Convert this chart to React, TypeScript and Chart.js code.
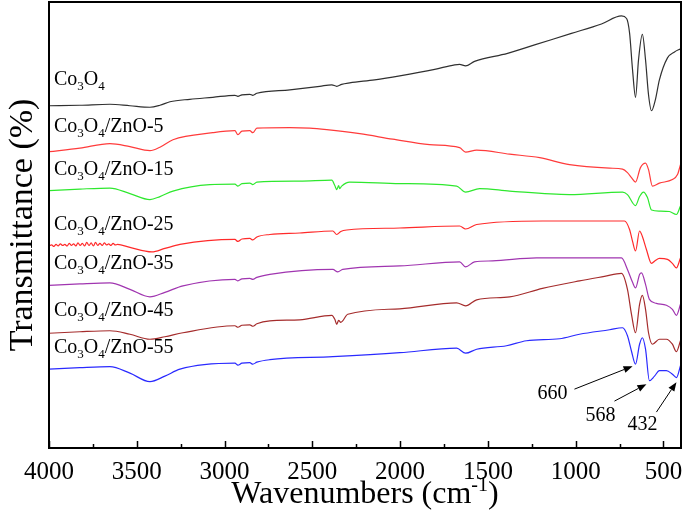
import React, { useEffect, useRef } from "react";
import { Chart, registerables } from "chart.js";

Chart.register(...registerables);

const FONT = '"Liberation Serif", "Times New Roman", Times, serif';

// X axis (wavenumber, cm^-1)
const xTicks = [4000, 3500, 3000, 2500, 2000, 1500, 1000, 500];
const xMin = 400;
const xMax = 4000;
const yMin = 0;
const yMax = 89.4;

// Co3O4
const co3o4Wn = [4000, 3824, 3653, 3539, 3425, 3368, 3311, 3198, 3067, 2941, 2924, 2901, 2856, 2839, 2816, 2628, 2458, 2389, 2361, 2333, 2287, 2145, 2002, 1803, 1689, 1661, 1627, 1576, 1388, 1234, 1024, 853, 739, 710, 693, 676, 659, 642, 620, 602, 585, 568, 546, 523, 477, 437, 403];
const co3o4T = [68.6, 68.7, 68.9, 68.6, 68.3, 68.7, 69.4, 69.9, 70.3, 70.7, 70.5, 70.8, 70.9, 70.7, 71.1, 71.8, 72.5, 72.8, 72.5, 72.9, 73.2, 73.8, 74.6, 75.9, 76.8, 76.9, 76.6, 77.5, 79.1, 80.8, 83.1, 85.0, 86.6, 86.1, 83.2, 75.8, 70.3, 77.8, 82.9, 77.8, 70.8, 67.6, 69.8, 73.8, 78.2, 79.4, 80.0];

// Co3O4/ZnO-5
const zno5Wn = [4000, 3824, 3653, 3539, 3425, 3368, 3294, 3067, 2941, 2924, 2901, 2856, 2839, 2816, 2628, 2515, 2418, 2230, 2042, 1832, 1661, 1627, 1564, 1376, 1205, 1035, 807, 733, 705, 682, 659, 631, 602, 585, 563, 523, 449, 420, 403];
const zno5T = [59.4, 60.1, 61.0, 60.4, 59.6, 60.3, 61.8, 63.2, 63.6, 62.8, 63.5, 63.6, 63.2, 64.1, 64.2, 64.1, 63.8, 63.0, 61.9, 60.8, 60.2, 59.3, 59.7, 58.9, 58.2, 56.8, 56.1, 55.9, 55.2, 54.2, 53.3, 56.2, 57.1, 55.8, 52.5, 53.1, 53.8, 54.8, 56.8];

// Co3O4/ZnO-15
const zno15Wn = [4000, 3824, 3653, 3539, 3425, 3368, 3294, 3084, 2941, 2924, 2901, 2856, 2839, 2816, 2572, 2389, 2372, 2361, 2350, 2344, 2333, 2287, 2002, 1678, 1627, 1547, 1376, 1035, 733, 705, 659, 636, 614, 591, 568, 523, 466, 426, 403];
const zno15T = [51.6, 51.9, 52.1, 51.0, 49.8, 50.4, 51.5, 52.8, 52.9, 52.5, 53.0, 53.1, 52.8, 53.3, 53.5, 53.7, 52.6, 51.8, 52.6, 52.0, 52.5, 53.3, 53.0, 52.5, 51.3, 52.0, 51.5, 50.8, 51.3, 50.8, 48.6, 50.4, 51.3, 50.2, 47.7, 47.5, 47.4, 46.8, 48.5];

// Co3O4/ZnO-25
const zno25Wn = [4000, 3985, 3972, 3960, 3948, 3935, 3922, 3910, 3897, 3885, 3872, 3860, 3847, 3835, 3822, 3810, 3797, 3785, 3772, 3760, 3747, 3735, 3722, 3710, 3697, 3685, 3672, 3660, 3647, 3635, 3622, 3610, 3539, 3414, 3340, 3254, 2941, 2924, 2901, 2856, 2839, 2816, 2742, 2572, 2383, 2361, 2338, 2304, 2002, 1661, 1627, 1564, 1189, 978, 750, 722, 693, 676, 659, 636, 620, 597, 568, 546, 523, 477, 449, 426, 403];
const zno25T = [40.5, 40.7, 40.4, 40.8, 40.5, 40.9, 40.6, 40.8, 40.5, 41.0, 40.6, 40.9, 40.5, 41.1, 40.6, 41.0, 40.5, 41.2, 40.6, 41.1, 40.5, 41.2, 40.6, 41.0, 40.6, 41.1, 40.7, 40.9, 40.6, 41.0, 40.7, 40.8, 40.2, 39.3, 40.0, 40.8, 41.8, 41.4, 41.9, 42.0, 41.7, 42.3, 42.8, 43.1, 43.5, 42.8, 43.4, 43.7, 44.1, 44.5, 43.9, 44.8, 45.5, 45.5, 45.5, 45.5, 43.8, 41.4, 39.5, 43.5, 42.4, 39.8, 37.0, 37.6, 38.0, 37.8, 37.0, 36.1, 38.1];

// Co3O4/ZnO-35
const zno35Wn = [4000, 3824, 3653, 3539, 3425, 3340, 3237, 2941, 2924, 2901, 2856, 2839, 2816, 2742, 2383, 2355, 2327, 2002, 1661, 1627, 1576, 1473, 1223, 978, 739, 705, 676, 659, 636, 625, 602, 580, 540, 483, 449, 426, 403];
const zno35T = [32.6, 32.9, 33.1, 31.8, 30.3, 31.2, 32.5, 33.8, 33.5, 33.9, 34.0, 33.8, 34.2, 34.8, 35.8, 35.3, 35.8, 36.5, 37.3, 36.3, 37.3, 37.5, 38.1, 38.1, 38.1, 35.8, 33.2, 32.1, 34.8, 35.1, 32.8, 29.8, 29.0, 28.6, 27.8, 26.6, 28.8];

// Co3O4/ZnO-45
const zno45Wn = [4000, 3824, 3653, 3539, 3425, 3340, 3237, 2941, 2924, 2901, 2856, 2839, 2816, 2742, 2572, 2389, 2372, 2361, 2350, 2338, 2298, 2002, 1678, 1627, 1564, 1376, 1189, 978, 836, 739, 705, 682, 659, 636, 620, 602, 585, 563, 523, 483, 449, 426, 403];
const zno45T = [23.0, 23.3, 23.5, 22.8, 21.8, 22.3, 23.1, 24.5, 24.2, 24.6, 24.7, 24.4, 24.9, 25.5, 25.7, 26.6, 25.8, 24.8, 25.6, 25.2, 26.8, 27.9, 29.1, 28.5, 29.7, 30.3, 32.0, 33.5, 34.4, 35.0, 31.8, 26.8, 23.1, 28.8, 30.6, 27.8, 23.1, 20.8, 21.8, 21.8, 20.8, 19.3, 21.5];

// Co3O4/ZnO-55
const zno55Wn = [4000, 3824, 3653, 3539, 3425, 3340, 3254, 2941, 2924, 2901, 2856, 2839, 2816, 2742, 2383, 2002, 1678, 1627, 1564, 1394, 1280, 1092, 978, 807, 733, 705, 682, 659, 636, 620, 602, 580, 551, 523, 483, 449, 426, 403];
const zno55T = [15.8, 16.1, 16.3, 15.0, 13.3, 14.4, 15.8, 17.0, 16.6, 17.0, 17.1, 16.8, 17.2, 17.7, 18.3, 19.1, 20.0, 19.0, 19.8, 20.5, 21.5, 21.9, 22.8, 23.7, 24.1, 22.5, 19.4, 16.8, 20.8, 22.1, 19.8, 13.5, 14.4, 15.5, 15.5, 14.8, 14.1, 16.5];

const seriesNames = ["Co3O4", "Co3O4/ZnO-5", "Co3O4/ZnO-15", "Co3O4/ZnO-25", "Co3O4/ZnO-35", "Co3O4/ZnO-45", "Co3O4/ZnO-55"];
const seriesWn = [co3o4Wn, zno5Wn, zno15Wn, zno25Wn, zno35Wn, zno45Wn, zno55Wn];
const seriesT = [co3o4T, zno5T, zno15T, zno25T, zno35T, zno45T, zno55T];
const seriesColors = ["#303030", "#ff3b3b", "#2ee82e", "#ff2a2a", "#a035b0", "#a52c2c", "#2a2aff"];

// Curve labels (left side), anchored at wavenumber / transmittance of their baselines
const labelWn = 3972;
const labelT = [72.8, 63.3, 54.8, 43.7, 35.8, 26.5, 19.0];

// Peak annotations
const peakLabels = ["660", "568", "432"];
const peakTextWn = [1132, 859, 620];
const peakTextT = [9.8, 5.4, 3.6];
const arrowFromWn = [1007, 779, 540];
const arrowFromT = [11.8, 9.4, 7.2];
const arrowToWn = [676, 597, 426];
const arrowToT = [16.4, 12.8, 13.2];

function drawFormula(ctx: CanvasRenderingContext2D, name: string, x: number, y: number) {
  const big = `20px ${FONT}`;
  const small = `13px ${FONT}`;
  ctx.textAlign = "left";
  ctx.textBaseline = "alphabetic";
  ctx.fillStyle = "#000";
  let cx = x;
  const parts: [string, boolean][] = [];
  let buf = "";
  for (let i = 0; i < name.length; i++) {
    const ch = name[i];
    const prev = i > 0 ? name[i - 1] : "";
    const isSub = /[0-9]/.test(ch) && /[oO]/.test(prev) && i < 5;
    if (isSub) {
      if (buf) parts.push([buf, false]);
      buf = "";
      parts.push([ch, true]);
    } else buf += ch;
  }
  if (buf) parts.push([buf, false]);
  for (const [t, sub] of parts) {
    ctx.font = sub ? small : big;
    ctx.fillText(t, cx, sub ? y + 5 : y);
    cx += ctx.measureText(t).width;
  }
}

const overlayPlugin = {
  id: "overlay",
  afterDraw(chart: any) {
    const ctx: CanvasRenderingContext2D = chart.ctx;
    const { left, right, top, bottom } = chart.chartArea;
    const xs = chart.scales.x;
    const ys = chart.scales.y;
    ctx.save();
    // frame
    ctx.strokeStyle = "#000";
    ctx.lineWidth = 2;
    ctx.strokeRect(left, top, right - left, bottom - top);
    // inward ticks (major every 500, minor every 250)
    ctx.lineWidth = 1.5;
    for (let v = 500; v <= 4000; v += 250) {
      const px = Math.round(xs.getPixelForValue(v)) + 0.5;
      const len = v % 500 === 0 ? 7 : 4;
      ctx.beginPath();
      ctx.moveTo(px, bottom);
      ctx.lineTo(px, bottom - len);
      ctx.stroke();
    }
    // curve labels
    for (let i = 0; i < seriesNames.length; i++) {
      drawFormula(ctx, seriesNames[i], xs.getPixelForValue(labelWn), ys.getPixelForValue(labelT[i]));
    }
    // peak annotations
    ctx.fillStyle = "#000";
    ctx.strokeStyle = "#000";
    ctx.font = `20px ${FONT}`;
    ctx.textAlign = "center";
    ctx.textBaseline = "alphabetic";
    for (let i = 0; i < peakLabels.length; i++) {
      ctx.fillText(peakLabels[i], xs.getPixelForValue(peakTextWn[i]), ys.getPixelForValue(peakTextT[i]));
      const x1 = xs.getPixelForValue(arrowFromWn[i]);
      const y1 = ys.getPixelForValue(arrowFromT[i]);
      const x2 = xs.getPixelForValue(arrowToWn[i]);
      const y2 = ys.getPixelForValue(arrowToT[i]);
      const ang = Math.atan2(y2 - y1, x2 - x1);
      const hl = 9;
      const hw = 3.5;
      const bx = x2 - hl * Math.cos(ang);
      const by = y2 - hl * Math.sin(ang);
      ctx.lineWidth = 1;
      ctx.beginPath();
      ctx.moveTo(x1, y1);
      ctx.lineTo(bx, by);
      ctx.stroke();
      ctx.beginPath();
      ctx.moveTo(x2, y2);
      ctx.lineTo(bx - hw * Math.sin(ang), by + hw * Math.cos(ang));
      ctx.lineTo(bx + hw * Math.sin(ang), by - hw * Math.cos(ang));
      ctx.closePath();
      ctx.fill();
    }
    // y title
    ctx.save();
    ctx.translate(left - 17, (top + bottom) / 2);
    ctx.rotate(-Math.PI / 2);
    ctx.font = `34px ${FONT}`;
    ctx.textAlign = "center";
    ctx.textBaseline = "alphabetic";
    ctx.fillText("Transmittance (%)", 0, 0);
    ctx.restore();
    // x title with superscript
    const bigF = `32px ${FONT}`;
    const supF = `20px ${FONT}`;
    const segs: [string, boolean][] = [["Wavenumbers (cm", false], ["-1", true], [")", false]];
    let total = 0;
    for (const [t, sup] of segs) {
      ctx.font = sup ? supF : bigF;
      total += ctx.measureText(t).width;
    }
    let cx = (left + right) / 2 - total / 2;
    const by = bottom + 55;
    ctx.textAlign = "left";
    for (const [t, sup] of segs) {
      ctx.font = sup ? supF : bigF;
      ctx.fillText(t, cx, sup ? by - 12 : by);
      cx += ctx.measureText(t).width;
    }
    ctx.restore();
  },
};

export default function App() {
  const canvasRef = useRef<HTMLCanvasElement | null>(null);

  useEffect(() => {
    if (!canvasRef.current) return;
    const datasets = seriesNames.map((name, i) => ({
      label: name,
      data: seriesWn[i].map((w, j) => ({ x: w, y: seriesT[i][j] })),
      borderColor: seriesColors[i],
      backgroundColor: seriesColors[i],
      borderWidth: 1.2,
      pointRadius: 0,
      cubicInterpolationMode: "monotone" as const,
      fill: false,
    }));
    const chart = new Chart(canvasRef.current, {
      type: "line",
      data: { datasets },
      options: {
        animation: false,
        responsive: false,
        devicePixelRatio: 1,
        layout: { padding: { top: 2, right: 4, left: 0, bottom: 0 } },
        plugins: { legend: { display: false }, tooltip: { enabled: false } },
        scales: {
          x: {
            type: "linear",
            min: xMin,
            max: xMax,
            reverse: true,
            grid: { display: false, drawTicks: false },
            border: { display: false },
            afterBuildTicks: (scale: any) => {
              scale.ticks = xTicks.map((v) => ({ value: v }));
            },
            afterFit: (scale: any) => {
              scale.height = 68;
              scale.paddingLeft = 0;
              scale.paddingRight = 0;
            },
            ticks: {
              autoSkip: false,
              maxRotation: 0,
              padding: 9,
              color: "#000",
              font: { family: FONT, size: 25 },
              callback: (v: any) => String(v),
            },
          },
          y: {
            type: "linear",
            min: yMin,
            max: yMax,
            grid: { display: false, drawTicks: false },
            border: { display: false },
            ticks: { display: false },
            afterFit: (scale: any) => {
              scale.width = 49;
              scale.paddingTop = 0;
              scale.paddingBottom = 0;
            },
          },
        },
      },
      plugins: [overlayPlugin],
    });
    return () => chart.destroy();
  }, []);

  return (
    <div style={{ position: "fixed", left: 0, top: 0, width: 685, height: 516, background: "#fff" }}>
      <canvas ref={canvasRef} width={685} height={516} style={{ display: "block" }} />
    </div>
  );
}
